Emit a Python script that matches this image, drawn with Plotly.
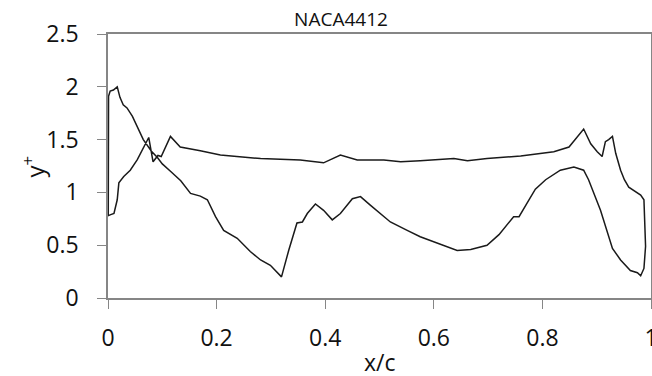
import plotly.graph_objects as go

# Curve traced as one closed loop around the airfoil (TE -> LE on one side, LE -> TE on the other)
side_a_x = [0.990, 0.987, 0.981, 0.975, 0.962, 0.944, 0.929, 0.907, 0.885, 0.876, 0.858, 0.833,
            0.806, 0.787, 0.772, 0.757, 0.747, 0.720, 0.698, 0.668, 0.643, 0.606, 0.575, 0.551,
            0.520, 0.483, 0.465, 0.450, 0.428, 0.413, 0.397, 0.382, 0.367, 0.358, 0.348, 0.333,
            0.3195, 0.299, 0.281, 0.262, 0.238, 0.213, 0.198, 0.183, 0.170, 0.152, 0.134, 0.115,
            0.100, 0.091, 0.080, 0.065, 0.054, 0.045, 0.035, 0.028, 0.022, 0.017, 0.010, 0.004,
            0.001, 0.0005]
side_a_y = [0.49, 0.28, 0.21, 0.24, 0.26, 0.36, 0.47, 0.83, 1.12, 1.21, 1.24, 1.21,
            1.12, 1.03, 0.90, 0.77, 0.77, 0.60, 0.50, 0.46, 0.45, 0.52, 0.58, 0.64,
            0.72, 0.88, 0.96, 0.94, 0.80, 0.74, 0.83, 0.89, 0.80, 0.72, 0.71, 0.455,
            0.20, 0.31, 0.36, 0.44, 0.565, 0.64, 0.77, 0.93, 0.965, 0.99, 1.11, 1.20,
            1.27, 1.33, 1.39, 1.50, 1.62, 1.72, 1.80, 1.83, 1.90, 2.00, 1.97, 1.96,
            1.91, 1.50]
side_b_x = [0.0005, 0.005, 0.011, 0.017, 0.020, 0.029, 0.041, 0.054, 0.075, 0.083, 0.092,
            0.098, 0.115, 0.133, 0.146, 0.170, 0.207, 0.281, 0.354, 0.397, 0.428, 0.459,
            0.508, 0.539, 0.575, 0.612, 0.637, 0.662, 0.698, 0.760, 0.821, 0.849, 0.864,
            0.876, 0.889, 0.901, 0.910, 0.916, 0.922, 0.929, 0.935, 0.944, 0.951, 0.959,
            0.981, 0.987, 0.990]
side_b_y = [0.78, 0.79, 0.80, 0.93, 1.09, 1.15, 1.21, 1.31, 1.52, 1.29, 1.35,
            1.34, 1.53, 1.43, 1.42, 1.395, 1.354, 1.32, 1.307, 1.28, 1.354, 1.307,
            1.307, 1.29, 1.30, 1.31, 1.32, 1.30, 1.32, 1.345, 1.385, 1.43, 1.53,
            1.60, 1.46, 1.385, 1.34, 1.48, 1.50, 1.53, 1.37, 1.21, 1.12, 1.05,
            0.975, 0.93, 0.49]

x_ticks = [0, 0.2, 0.4, 0.6, 0.8, 1]
x_tick_labels = ["0", "0.2", "0.4", "0.6", "0.8", "1"]
y_ticks = [0, 0.5, 1, 1.5, 2, 2.5]
y_tick_labels = ["0", "0.5", "1", "1.5", "2", "2.5"]

loop_x = side_a_x + side_b_x
loop_y = side_a_y + side_b_y

FONT = "Open Sans"
TXT = "#111111"
AX = "#868686"

fig = go.Figure()
fig.add_trace(go.Scatter(x=loop_x, y=loop_y, mode="lines",
                         line=dict(color="#1a1a1a", width=1.5), showlegend=False,
                         hoverinfo="skip"))

W, H = 652, 376
ml, mr, mt, mb = 107.5, 1, 34, 78

fig.update_layout(
    width=W, height=H,
    margin=dict(l=ml, r=mr, t=mt, b=mb, pad=0),
    paper_bgcolor="white", plot_bgcolor="white",
    font=dict(family=FONT, color=TXT),
    title=dict(text="NACA4412", x=341 / W, xref="container", xanchor="center",
               y=1 - 19 / H, yref="container", yanchor="middle",
               font=dict(family=FONT, size=19, color=TXT)),
    xaxis=dict(range=[0, 1], tickvals=x_ticks, ticktext=x_tick_labels,
               showgrid=False, zeroline=False, showline=True, linecolor=AX, linewidth=1.5,
               mirror=True, ticks="outside", ticklen=9, tickcolor=AX, tickwidth=1,
               tickfont=dict(family=FONT, size=23, color=TXT), automargin=False,
               ticklabelstandoff=10, ticklabeloverflow="allow"),
    yaxis=dict(range=[0, 2.5], tickvals=y_ticks, ticktext=y_tick_labels,
               showgrid=False, zeroline=False, showline=True, linecolor=AX, linewidth=1.5,
               mirror=True, ticks="outside", ticklen=9, tickcolor=AX, tickwidth=1,
               tickfont=dict(family=FONT, size=23, color=TXT), automargin=False,
               ticklabelstandoff=14, ticklabeloverflow="allow"),
    annotations=[
        dict(text="x/c", xref="paper", yref="paper", x=0.5, y=(298 - 362) / 264,
             xanchor="center", yanchor="middle", showarrow=False,
             font=dict(family=FONT, size=23, color=TXT)),
        dict(text="y<sup>+</sup>", xref="paper", yref="paper", x=(32 - 107.5) / 543.5,
             y=(298 - 167) / 264, xanchor="center", yanchor="middle", textangle=-90,
             showarrow=False, font=dict(family=FONT, size=24, color=TXT)),
    ],
)

fig.write_html("out.html")
